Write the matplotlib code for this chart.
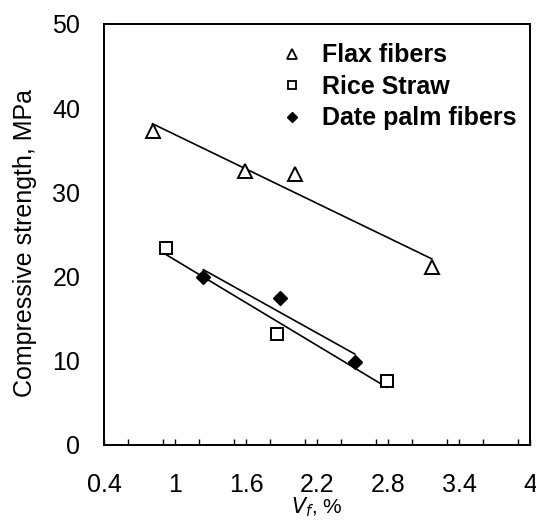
import numpy as np
import matplotlib
matplotlib.use("Agg")
import matplotlib.pyplot as plt
from matplotlib.ticker import MultipleLocator

plt.rcParams['font.family'] = ['Liberation Sans', 'DejaVu Sans']

flax_x = [0.81, 1.59, 2.01, 3.17]
flax_y = [37.3, 32.5, 32.2, 21.1]
rice_x = [0.92, 1.86, 2.79]
rice_y = [23.4, 13.2, 7.6]
date_x = [1.24, 1.89, 2.52]
date_y = [19.95, 17.5, 9.9]

labels = ["Flax fibers", "Rice Straw", "Date palm fibers"]
xticks = [0.4, 1.0, 1.6, 2.2, 2.8, 3.4, 4.0]
xtick_labels = ["0.4", "1", "1.6", "2.2", "2.8", "3.4", "4"]
yticks = [0, 10, 20, 30, 40, 50]

fig = plt.figure(figsize=(5.36, 5.26), dpi=100)
ax = fig.add_axes([0.194, 0.154, 0.7948, 0.8004])

def fitline(x, y):
    p = np.polyfit(x, y, 1)
    xs = np.array([min(x), max(x)])
    ax.plot(xs, np.polyval(p, xs), color='black', lw=1.2, zorder=2)

fitline(flax_x, flax_y)
fitline(rice_x, rice_y)
fitline(date_x, date_y)

ax.plot(flax_x, flax_y, ls='none', marker='^', ms=9.5, mfc='white', mec='black', mew=1.4, zorder=3)
ax.plot(rice_x, rice_y, ls='none', marker='s', ms=8.5, mfc='white', mec='black', mew=1.4, zorder=3)
ax.plot(date_x, date_y, ls='none', marker='D', ms=7, mfc='black', mec='black', zorder=4)

# legend
h1, = ax.plot([], [], ls='none', marker='^', ms=6.5, mfc='white', mec='black', mew=1.3)
h2, = ax.plot([], [], ls='none', marker='s', ms=5.5, mfc='white', mec='black', mew=1.3)
h3, = ax.plot([], [], ls='none', marker='D', ms=5, mfc='black', mec='black')
leg = ax.legend([h1, h2, h3], labels, loc='upper left', bbox_to_anchor=(0.412, 0.954),
                frameon=False, prop={'size': 18, 'weight': 'bold'},
                handletextpad=0.7, labelspacing=0.3, handlelength=1.0,
                borderaxespad=0, borderpad=0)

ax.set_xlim(0.4, 4.0)
ax.set_ylim(0, 50)
ax.set_xticks(xticks)
ax.set_xticklabels(xtick_labels)
ax.xaxis.set_minor_locator(MultipleLocator(0.3))
ax.set_yticks(yticks)
ax.tick_params(axis='x', which='both', direction='in', length=4, width=1, pad=20, labelsize=18)
ax.tick_params(axis='y', length=0, pad=17, labelsize=18)

for s in ax.spines.values():
    s.set_linewidth(1.4)

ax.set_ylabel("Compressive strength, MPa", fontsize=18)
ax.yaxis.set_label_coords(-0.158, 0.48)
ax.set_xlabel(r"$V_f$, %", fontsize=15, labelpad=-1)

fig.savefig("out.png", dpi=100)
